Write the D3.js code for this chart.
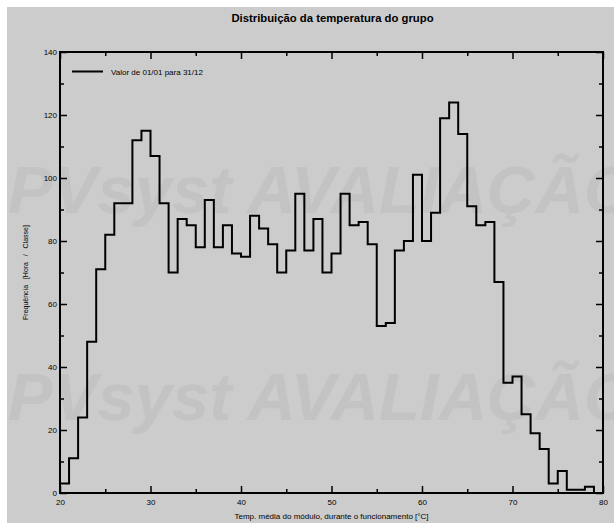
<!DOCTYPE html>
<html>
<head>
<meta charset="utf-8">
<script src="https://cdn.jsdelivr.net/npm/d3@7"></script>
<style>
  html, body { margin: 0; padding: 0; background: #ffffff; }
  svg { display: block; }
  text { font-family: "Liberation Sans", Arial, sans-serif; fill: #000; }
</style>
</head>
<body>
<svg id="chart" width="614" height="523"></svg>
<script>
// ---- data ----
const binStarts = [20,21,22,23,24,25,26,27,28,29,30,31,32,33,34,35,36,37,38,39,40,41,42,43,44,45,46,47,48,49,
                   50,51,52,53,54,55,56,57,58,59,60,61,62,63,64,65,66,67,68,69,70,71,72,73,74,75,76,77,78];
const hours = [3,11,24,48,71,82,92,92,112,115,107,92,70,87,85,78,93,78,85,76,75,88,84,79,70,77,95,77,87,70,
               76,95,85,86,79,53,54,77,80,101,80,89,119,124,114,91,85,86,67,35,37,25,19,14,3,7,1,1,2];
const binWidth = 1;
const xMajorTicks = [20,30,40,50,60,70,80];
const xMinorTicks = [25,35,45,55,65,75];
const yMajorTicks = [0,20,40,60,80,100,120,140];
const yMinorTicks = [10,30,50,70,90,110,130];
const titleText = "Distribuição da temperatura do grupo";
const xLabel = "Temp. média do módulo, durante o funcionamento [°C]";
const yLabel = "Frequência   [Hora   /   Classe]";
const legendLabel = "Valor de 01/01 para 31/12";
const watermark = "PVsyst AVALIAÇÃO";

// ---- layout ----
const svg = d3.select("#chart");
const L = 60, R = 603, T = 52, B = 493;
const x = d3.scaleLinear().domain([20, 80]).range([L, R]);
const y = d3.scaleLinear().domain([0, 140]).range([B, T]);

svg.append("rect").attr("x", 7).attr("y", 7).attr("width", 607).attr("height", 516).attr("fill", "#cccccc");

// watermark
[213, 420].forEach(by => {
  svg.append("text").attr("x", 8).attr("y", by)
    .style("font-size", "67px").style("font-weight", "bold").style("font-style", "italic")
    .style("fill", "#c3c3c3").text(watermark);
});

// title
svg.append("text").attr("x", (L + R) / 2 + 1).attr("y", 22).attr("text-anchor", "middle")
  .style("font-size", "11.3px").style("font-weight", "bold").text(titleText);

// axes helpers
function styleAxis(g, w) {
  g.select(".domain").remove();
  g.selectAll(".tick line").attr("stroke", "#000").attr("stroke-width", w);
  g.selectAll(".tick text").style("font-size", "8px").style("font-family", "Liberation Sans, Arial, sans-serif");
}
// bottom major with labels
svg.append("g").attr("transform", `translate(0,${B})`)
  .call(d3.axisBottom(x).tickValues(xMajorTicks).tickSize(-7).tickPadding(6).tickFormat(d3.format("d")))
  .call(g => styleAxis(g, 1.5));
svg.append("g").attr("transform", `translate(0,${B})`)
  .call(d3.axisBottom(x).tickValues(xMinorTicks).tickSize(-4).tickFormat(""))
  .call(g => styleAxis(g, 1.5));
// top
svg.append("g").attr("transform", `translate(0,${T})`)
  .call(d3.axisTop(x).tickValues(xMajorTicks).tickSize(-7).tickFormat(""))
  .call(g => styleAxis(g, 1.5));
svg.append("g").attr("transform", `translate(0,${T})`)
  .call(d3.axisTop(x).tickValues(xMinorTicks).tickSize(-4).tickFormat(""))
  .call(g => styleAxis(g, 1.5));
// left
svg.append("g").attr("transform", `translate(${L},0)`)
  .call(d3.axisLeft(y).tickValues(yMajorTicks).tickSize(-7).tickPadding(3).tickFormat(d3.format("d")))
  .call(g => styleAxis(g, 1.5));
svg.append("g").attr("transform", `translate(${L},0)`)
  .call(d3.axisLeft(y).tickValues(yMinorTicks).tickSize(-4).tickFormat(""))
  .call(g => styleAxis(g, 1.5));
// right
svg.append("g").attr("transform", `translate(${R},0)`)
  .call(d3.axisRight(y).tickValues(yMajorTicks).tickSize(-7).tickFormat(""))
  .call(g => styleAxis(g, 1.5));
svg.append("g").attr("transform", `translate(${R},0)`)
  .call(d3.axisRight(y).tickValues(yMinorTicks).tickSize(-4).tickFormat(""))
  .call(g => styleAxis(g, 1.5));

// histogram step outline
const pts = [[binStarts[0], 0]];
binStarts.forEach((b, i) => pts.push([b, hours[i]]));
const lastEnd = binStarts[binStarts.length - 1] + binWidth;
pts.push([lastEnd, hours[hours.length - 1]]);
pts.push([lastEnd, 0]);
const line = d3.line().x(d => x(d[0])).y(d => y(d[1])).curve(d3.curveStepAfter);
svg.append("path").attr("d", line(pts)).attr("fill", "none")
  .attr("stroke", "#000").attr("stroke-width", 2).attr("stroke-linejoin", "miter");

// frame
svg.append("rect").attr("x", L).attr("y", T).attr("width", R - L).attr("height", B - T)
  .attr("fill", "none").attr("stroke", "#000").attr("stroke-width", 2);

// legend
svg.append("line").attr("x1", 72).attr("x2", 103).attr("y1", 71.5).attr("y2", 71.5)
  .attr("stroke", "#000").attr("stroke-width", 2);
svg.append("text").attr("x", 111).attr("y", 74.5).style("font-size", "8px").text(legendLabel);

// axis titles
svg.append("text").attr("x", (L + R) / 2).attr("y", 519).attr("text-anchor", "middle")
  .style("font-size", "8px").text(xLabel);
svg.append("text").attr("transform", `translate(28,${(T + B) / 2}) rotate(-90)`)
  .attr("text-anchor", "middle").style("font-size", "7px").style("white-space", "pre")
  .attr("xml:space", "preserve").text(yLabel);
</script>
</body>
</html>
